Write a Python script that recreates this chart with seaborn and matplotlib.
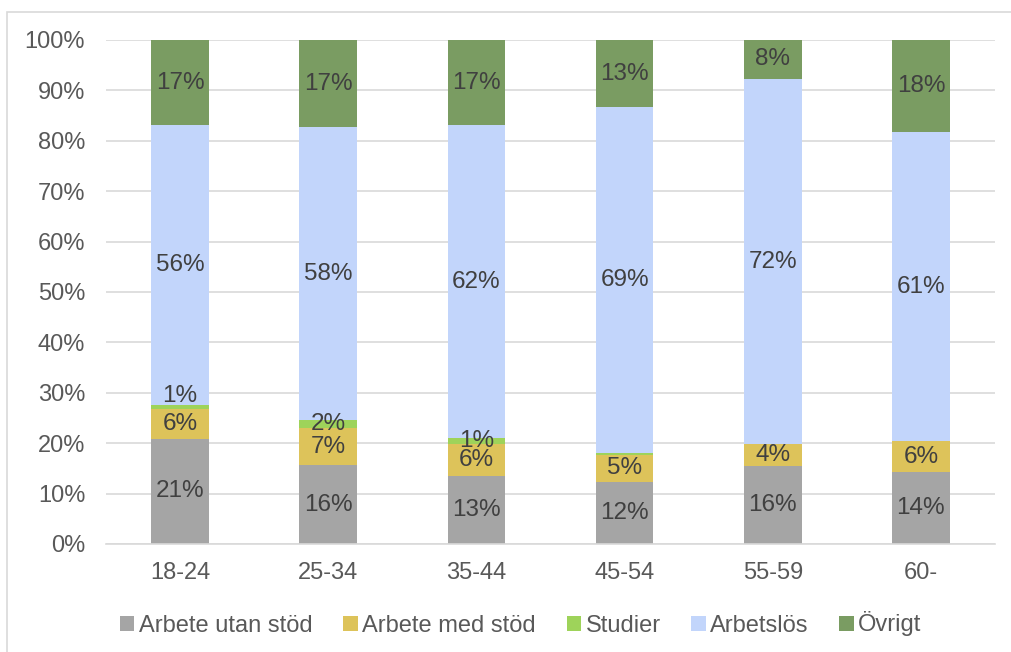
import matplotlib
matplotlib.use("Agg")
import matplotlib.pyplot as plt
from matplotlib.patches import Rectangle, Patch
import seaborn as sns
import pandas as pd
import numpy as np

categories = ["18-24", "25-34", "35-44", "45-54", "55-59", "60-"]
series_names = ["Arbete utan stöd", "Arbete med stöd", "Studier", "Arbetslös", "Övrigt"]
arbete_utan_stod = [20.9, 15.6, 13.4, 12.4, 15.5, 14.3]
arbete_med_stod = [5.9, 7.4, 6.4, 5.3, 4.3, 6.1]
studier = [0.8, 1.5, 1.2, 0.3, 0.0, 0.0]
arbetslos = [55.5, 58.0, 62.1, 68.7, 72.5, 61.3]
ovrigt = [16.9, 17.3, 16.9, 13.3, 7.7, 18.3]
colors = ["#A5A5A5", "#DDC35A", "#9ED35A", "#C2D5FB", "#7A9C62"]
yticks = [0, 10, 20, 30, 40, 50, 60, 70, 80, 90, 100]

series = [arbete_utan_stod, arbete_med_stod, studier, arbetslos, ovrigt]

sns.set_theme(style="white")
plt.rcParams["font.family"] = ["Liberation Sans", "DejaVu Sans"]

fig = plt.figure(figsize=(10.11, 6.52), dpi=100)
ax = fig.add_axes([106 / 1011, 1 - 544 / 652, (995 - 106) / 1011, (544 - 40) / 652])

vals = np.array(series, dtype=float)
cum = np.cumsum(vals, axis=0)
cum = cum / cum[-1] * 100

for k in range(len(series) - 1, -1, -1):
    df = pd.DataFrame({"cat": categories, "val": cum[k]})
    sns.barplot(data=df, x="cat", y="val", color=colors[k], width=0.39,
                saturation=1, ax=ax, linewidth=0, zorder=2)

# manual label nudge (in percentage points), as in the original chart
label_nudge = {(2, 0): 2.2}

for k in range(len(series)):
    bottoms = cum[k - 1] if k > 0 else np.zeros(len(categories))
    for i in range(len(categories)):
        v = vals[k][i]
        if round(v) < 1:
            continue
        ymid = (bottoms[i] + cum[k][i]) / 2 + label_nudge.get((k, i), 0)
        ax.text(i, ymid, f"{round(v):.0f}%", ha="center", va="center",
                fontsize=17.5, color="#404040", zorder=5)

ax.set_ylim(0, 100)
ax.set_xlim(-0.5, len(categories) - 0.5)
ax.set_yticks(yticks)
ax.set_yticklabels([f"{t}%" for t in yticks])
ax.set_xlabel("")
ax.set_ylabel("")
ax.yaxis.grid(True, color="#D9D9D9", linewidth=1.2, zorder=0)
ax.set_axisbelow(True)
for s in ["top", "right", "left"]:
    ax.spines[s].set_visible(False)
ax.spines["bottom"].set_color("#D9D9D9")
ax.spines["bottom"].set_linewidth(1.2)
ax.tick_params(axis="both", length=0, labelsize=17, labelcolor="#595959")
ax.tick_params(axis="y", pad=15)
ax.tick_params(axis="x", pad=13)

handles = [Patch(facecolor=c, edgecolor="none") for c in colors]
fig.legend(handles, series_names, loc="center", bbox_to_anchor=(521 / 1011, 1 - 624 / 652),
           ncol=5, frameon=False, fontsize=17, handlelength=0.6, handleheight=0.6,
           handletextpad=0.2, columnspacing=1.3, labelcolor="#595959")

fig.patches.append(Rectangle((7 / 1011, -0.05), 1.1, 1 - 12 / 652 + 0.05,
                             transform=fig.transFigure, fill=False,
                             edgecolor="#D9D9D9", linewidth=1.2, zorder=0))

fig.savefig("out.png", dpi=100)
